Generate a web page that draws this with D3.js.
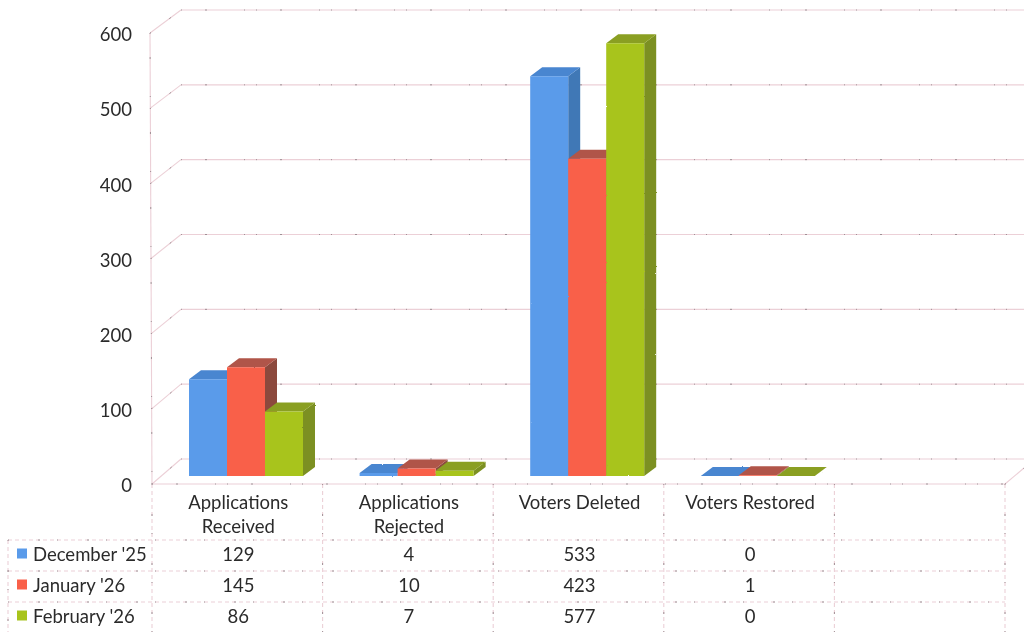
<!DOCTYPE html>
<html>
<head>
<meta charset="utf-8">
<script src="https://cdn.jsdelivr.net/npm/d3@7"></script>
<style>
html,body{margin:0;padding:0;background:#fff;overflow:hidden}
svg{display:block}
text{font-family:Lato,"Open Sans",sans-serif;fill:#2c2c2c}
</style>
</head>
<body>
<svg id="c" width="1024" height="632"></svg>
<script>
const categories = ["Applications Received", "Applications Rejected", "Voters Deleted", "Voters Restored", ""];
const categoryLines = [["Applications", "Received"], ["Applications", "Rejected"], ["Voters Deleted"], ["Voters Restored"], []];
const seriesNames = ["December '25", "January '26", "February '26"];
const december = [129, 4, 533, 0];
const january = [145, 10, 423, 1];
const february = [86, 7, 577, 0];
const tickValues = [0, 100, 200, 300, 400, 500, 600];
const frontColors = ["#5a9bea", "#f9604a", "#a8c41f"];
const topColors = ["#4a86d0", "#b05548", "#8a9f22"];
const sideColors = ["#3f78b6", "#8c4a3e", "#7c9020"];
const series = [december, january, february];

const svg = d3.select("#c");
const depth = {x: 29};              // wall / floor perspective
const barDepth = {x: 12, y: -9};    // bar perspective
const x = d3.scaleBand().domain(d3.range(categories.length)).range([152, 1005]);
const yFront = d3.scaleLinear().domain([0, 600]).range([484, 33]);
const yBack = d3.scaleLinear().domain([0, 600]).range([459, 10]);
const yBar = d3.scaleLinear().domain([0, 600]).range([476, 26]);
const inner = d3.scaleBand().domain(d3.range(series.length)).range([0, 114]);
const barOffset = 37;

const defs = svg.append("defs");
const f = defs.append("filter").attr("id", "scan").attr("x", -0.05).attr("y", -0.05).attr("width", 1.1).attr("height", 1.1);
f.append("feTurbulence").attr("type", "fractalNoise").attr("baseFrequency", 0.9).attr("numOctaves", 2).attr("seed", 4).attr("result", "n");
f.append("feDisplacementMap").attr("in", "SourceGraphic").attr("in2", "n").attr("scale", 1.6).attr("result", "d");
f.append("feGaussianBlur").attr("in", "d").attr("stdDeviation", 0.45);
const soft = defs.append("filter").attr("id", "soft").attr("filterUnits", "userSpaceOnUse")
  .attr("x", 0).attr("y", 0).attr("width", 1024).attr("height", 632);
soft.append("feGaussianBlur").attr("stdDeviation", 0.35);

const pink = "#ecd0d7";
const speck = "#6d6468";
const walls = svg.append("g").attr("filter", "url(#soft)");

function gridLine(x1, y1, x2, y2, dashed) {
  walls.append("line").attr("x1", x1).attr("y1", y1).attr("x2", x2).attr("y2", y2)
    .attr("stroke", pink).attr("stroke-width", 1.1)
    .attr("stroke-dasharray", dashed ? "4 3" : null);
  walls.append("line").attr("x1", x1).attr("y1", y1).attr("x2", x2).attr("y2", y2)
    .attr("stroke", speck).attr("stroke-width", 1).attr("stroke-opacity", 0.6)
    .attr("stroke-dasharray", dashed ? "1 29 2 17" : "1 23 2 37 1 11");
}

tickValues.forEach(t => {
  gridLine(x.range()[0] + depth.x, yBack(t), 1024, yBack(t));
  gridLine(x.range()[0] - 2 * (t / 600), yFront(t), x.range()[0] + depth.x, yBack(t));
});
gridLine(x.range()[0] - 2, yFront(600), x.range()[0], yFront(0));
gridLine(x.range()[1], yFront(0), 1024, yBack(0) + 9);

const bars = svg.append("g").attr("filter", "url(#scan)");
categories.slice(0, 4).forEach((c, i) => {
  series.forEach((vals, s) => {
    const v = vals[i];
    const x0 = x(i) + barOffset + inner(s);
    const w = inner.bandwidth();
    const yt = yBar(v), yb = yBar(0);
    const g = bars.append("g");
    g.append("path").attr("fill", sideColors[s])
      .attr("d", `M${x0 + w},${yt}L${x0 + w + barDepth.x},${yt + barDepth.y}L${x0 + w + barDepth.x},${yb + barDepth.y}L${x0 + w},${yb}Z`);
    g.append("path").attr("fill", topColors[s])
      .attr("d", `M${x0},${yt}L${x0 + barDepth.x},${yt + barDepth.y}L${x0 + w + barDepth.x},${yt + barDepth.y}L${x0 + w},${yt}Z`);
    g.append("rect").attr("x", x0).attr("y", yt).attr("width", w).attr("height", yb - yt).attr("fill", frontColors[s]);
  });
});

const labels = svg.append("g").attr("filter", "url(#soft)");

const axis = d3.axisLeft(yFront).tickValues(tickValues).tickSize(0).tickPadding(20);
const ag = labels.append("g").attr("transform", `translate(${x.range()[0]},0)`).call(axis);
ag.select(".domain").remove();
ag.selectAll("text").attr("font-size", 18.5).attr("dy", "0.42em").style("font-family", "Lato,sans-serif").attr("fill", "#2c2c2c");

const rowY = d3.scaleBand().domain(d3.range(series.length)).range([540, 633]);
const tableLeft = 8;
const colEdges = categories.map((c, i) => x(i)).concat([x.range()[1]]);
gridLine(x.range()[0], yFront(0), x.range()[1], yFront(0));
colEdges.forEach(e => gridLine(e, 484, e, 632, true));
gridLine(tableLeft, 540, tableLeft, 632, true);
[540, 571, 602].forEach(y => gridLine(tableLeft, y, x.range()[1], y, true));

categoryLines.forEach((lines, i) => {
  lines.forEach((l, k) => {
    labels.append("text").attr("x", x(i) + x.bandwidth() / 2 + 1).attr("y", 509 + k * 24)
      .attr("text-anchor", "middle").attr("font-size", 18.5).text(l);
  });
});
seriesNames.forEach((n, s) => {
  const cy = rowY(s) + rowY.bandwidth() / 2 - 2;
  labels.append("rect").attr("x", 17).attr("y", cy - 5).attr("width", 10).attr("height", 10).attr("fill", frontColors[s]);
  labels.append("text").attr("x", 33).attr("y", cy + 7).attr("font-size", 18.5).text(n);
  series[s].forEach((v, i) => {
    labels.append("text").attr("x", x(i) + x.bandwidth() / 2 + 1).attr("y", cy + 7)
      .attr("text-anchor", "middle").attr("font-size", 18.5).text(v);
  });
});
</script>
</body>
</html>
